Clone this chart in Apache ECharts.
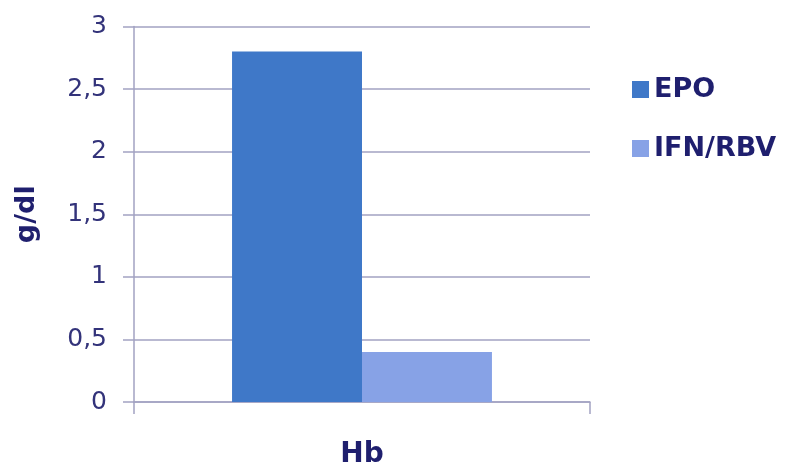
<!DOCTYPE html>
<html>
<head>
<meta charset="utf-8">
<script src="https://cdn.jsdelivr.net/npm/echarts@6/dist/echarts.min.js"></script>
<style>
  html, body { margin: 0; padding: 0; background: #fff; }
  #chart { width: 798px; height: 474px; }
</style>
</head>
<body>
<div id="chart"></div>
<script>
// values
const categories = ['Hb']
const seriesNames = ['EPO', 'IFN/RBV']
const epoValues = [2.8]
const ifnValues = [0.4]
const yTicks = { min: 0, max: 3, interval: 0.5 }

const navy = '#1f1f6e'
const lineColor = '#a2a2c2'
const font = 'DejaVu Sans, Verdana, sans-serif'

const chart = echarts.init(document.getElementById('chart'), null, { renderer: 'canvas' })

chart.setOption({
  animation: false,
  grid: { left: 134, right: 208, top: 26.5, bottom: 65, containLabel: false },
  legend: {
    orient: 'vertical',
    left: 627,
    top: 71,
    itemWidth: 17,
    itemHeight: 17,
    itemGap: 32,
    icon: 'rect',
    data: seriesNames,
    textStyle: { color: navy, fontSize: 27, fontWeight: 'bold', fontFamily: font },
  },
  xAxis: {
    type: 'category',
    data: categories,
    name: 'Hb',
    nameLocation: 'middle',
    nameGap: 39,
    nameTextStyle: { color: navy, fontSize: 28, fontWeight: 'bold', fontFamily: font },
    axisLine: { lineStyle: { color: lineColor, width: 1.5 } },
    axisTick: { show: true, length: 12, lineStyle: { color: lineColor, width: 1.5 } },
    axisLabel: { show: false },
    splitLine: { show: false },
  },
  yAxis: {
    type: 'value',
    min: yTicks.min,
    max: yTicks.max,
    interval: yTicks.interval,
    name: 'g/dl',
    nameLocation: 'middle',
    nameGap: 94,
    nameRotate: 90,
    nameTextStyle: { color: navy, fontSize: 27, fontWeight: 'bold', fontFamily: font },
    axisLine: { show: true, lineStyle: { color: lineColor, width: 1.5 } },
    axisTick: { show: true, length: 11, lineStyle: { color: lineColor, width: 1.5 } },
    axisLabel: {
      color: '#33337a',
      fontSize: 25,
      fontFamily: font,
      margin: 27,
      formatter: (v) => String(v).replace('.', ','),
    },
    splitLine: { show: true, lineStyle: { color: lineColor, width: 1.5 } },
  },
  series: [
    {
      name: seriesNames[0],
      type: 'bar',
      data: epoValues,
      barGap: '0%',
      barCategoryGap: '43%',
      itemStyle: { color: '#3f78c8' },
    },
    {
      name: seriesNames[1],
      type: 'bar',
      data: ifnValues,
      itemStyle: { color: '#87a2e6' },
    },
  ],
})
</script>
</body>
</html>
